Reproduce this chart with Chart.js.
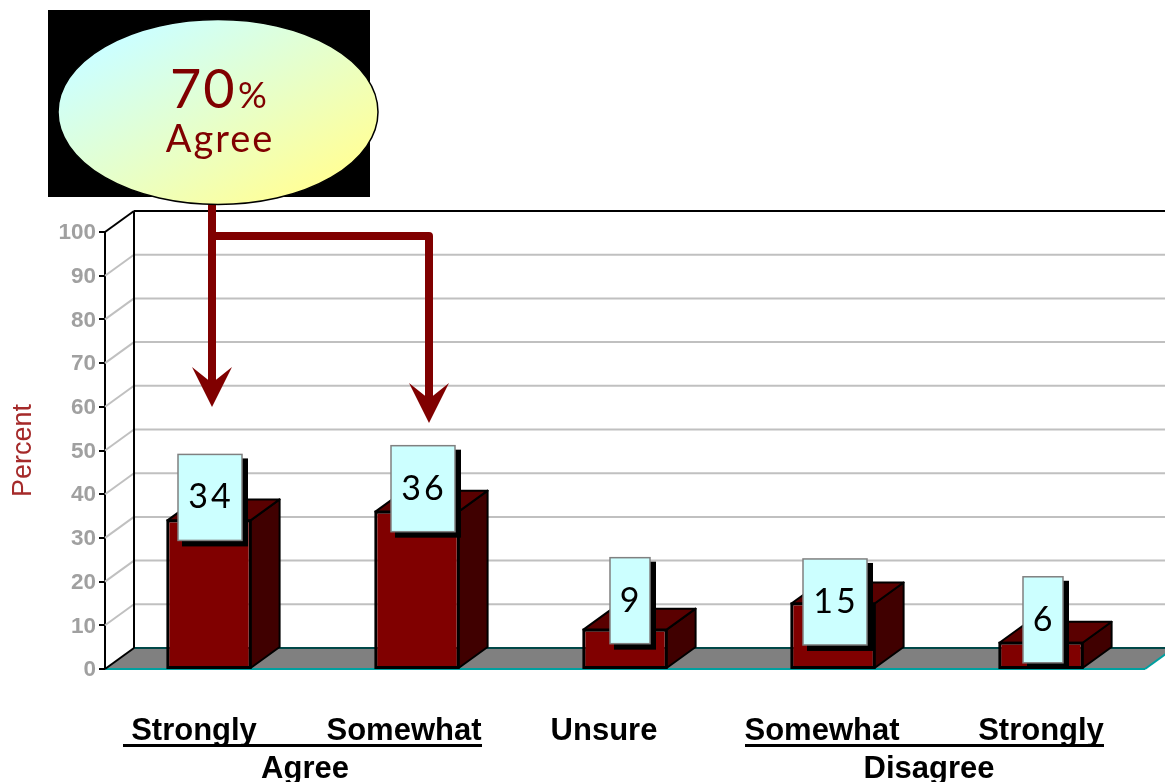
<!DOCTYPE html>
<html>
<head>
<meta charset="utf-8">
<title>Agree / Disagree</title>
<script src="https://cdn.jsdelivr.net/npm/chart.js@4"></script>
<style>
  html, body { margin: 0; padding: 0; background: #fff; overflow: hidden; }
  canvas { display: block; }
</style>
</head>
<body>
<canvas id="chart" width="1165" height="782"></canvas>
<script>
// data
const categories = ['Strongly', 'Somewhat', 'Unsure', 'Somewhat', 'Strongly'];
const percents = [34, 36, 9, 15, 6];
const yTicks = [0, 10, 20, 30, 40, 50, 60, 70, 80, 90, 100];
const groups = ['Agree', 'Disagree'];
const calloutValue = '70';
const calloutLabel = 'Agree';

const MAROON = '#800000';
const DEPTH_X = 29, DEPTH_Y = 21; // 3d offset of the back wall
const WALL_RIGHT = 1170;

// where the hand placed pieces sit, relative to their bars
const boxShift = [[1, -23], [6, -23], [5, -29], [2, -1.5], [2, -23]];
const labelShift = [-15, -13, -21, -11, 0];

function line(ctx, x1, y1, x2, y2) {
  ctx.beginPath();
  ctx.moveTo(x1, y1);
  ctx.lineTo(x2, y2);
  ctx.stroke();
}

function poly(ctx, pts, fill, stroke, width) {
  ctx.beginPath();
  pts.forEach((p, i) => i ? ctx.lineTo(p[0], p[1]) : ctx.moveTo(p[0], p[1]));
  ctx.closePath();
  ctx.fillStyle = fill;
  ctx.fill();
  if (stroke) {
    ctx.strokeStyle = stroke;
    ctx.lineWidth = width;
    ctx.lineJoin = 'round';
    ctx.stroke();
  }
}

// walls, floor and the gridlines, behind the bars
const wallsPlugin = {
  id: 'walls',
  beforeDatasetsDraw(chart) {
    const ctx = chart.ctx, y = chart.scales.y, a = chart.chartArea;
    ctx.save();
    const backLeft = a.left + DEPTH_X;
    ctx.strokeStyle = '#c0c0c0';
    ctx.lineWidth = 2;
    yTicks.slice(1, -1).forEach(v => {
      const py = y.getPixelForValue(v);
      line(ctx, a.left, py, backLeft, py - DEPTH_Y);
      line(ctx, backLeft, py - DEPTH_Y, WALL_RIGHT, py - DEPTH_Y);
    });
    const base = y.getPixelForValue(0), top = y.getPixelForValue(100);
    poly(ctx, [[a.left, base], [a.right, base], [a.right + DEPTH_X, base - DEPTH_Y], [backLeft, base - DEPTH_Y]], '#808080');
    ctx.strokeStyle = '#004848';
    line(ctx, backLeft, base - DEPTH_Y, WALL_RIGHT, base - DEPTH_Y);
    ctx.strokeStyle = '#00a0a0';
    line(ctx, a.left, base, a.right, base);
    line(ctx, a.right, base, a.right + DEPTH_X, base - DEPTH_Y);
    ctx.strokeStyle = '#000';
    line(ctx, backLeft, top - DEPTH_Y, backLeft, base - DEPTH_Y);
    line(ctx, backLeft, top - DEPTH_Y, WALL_RIGHT, top - DEPTH_Y);
    line(ctx, a.left, top, backLeft, top - DEPTH_Y);
    line(ctx, a.left, base, backLeft, base - DEPTH_Y);

    // top and side faces of the bars
    chart.getDatasetMeta(0).data.forEach(bar => {
      const r = bar.x + bar.width / 2, l = bar.x - bar.width / 2;
      poly(ctx, [[r, bar.y], [r + DEPTH_X, bar.y - DEPTH_Y], [r + DEPTH_X, bar.base - DEPTH_Y], [r, bar.base]], '#400000', '#000', 2);
      poly(ctx, [[l, bar.y], [l + DEPTH_X, bar.y - DEPTH_Y], [r + DEPTH_X, bar.y - DEPTH_Y], [r, bar.y]], '#5a0000', '#000', 2);
    });
    ctx.restore();
  }
};

function arrowHead(ctx, x, tipY) {
  poly(ctx, [[x, tipY], [x - 20, tipY - 40], [x, tipY - 24], [x + 20, tipY - 40]], MAROON);
}

// value cards, callout, arrows and the category text
const overlayPlugin = {
  id: 'overlay',
  afterDatasetsDraw(chart) {
    const ctx = chart.ctx, xs = chart.scales.x, ys = chart.scales.y;
    ctx.save();

    // outline on the front of the bars
    ctx.strokeStyle = '#000';
    ctx.lineWidth = 2;
    chart.getDatasetMeta(0).data.forEach(bar => {
      ctx.strokeRect(bar.x - bar.width / 2, bar.y, bar.width, bar.base - bar.y);
    });

    percents.forEach((v, i) => {
      const w = String(v).length > 1 ? 64 : 40, h = 86;
      const cx = xs.getPixelForValue(i) + boxShift[i][0];
      const cy = ys.getPixelForValue(v) + boxShift[i][1];
      ctx.fillStyle = '#000';
      ctx.fillRect(cx - w / 2 + 4, cy - h / 2 + 4, w + 2, h + 2);
      ctx.fillStyle = '#ccffff';
      ctx.strokeStyle = '#808080';
      ctx.lineWidth = 1.5;
      ctx.fillRect(cx - w / 2, cy - h / 2, w, h);
      ctx.strokeRect(cx - w / 2, cy - h / 2, w, h);
      ctx.fillStyle = '#000';
      ctx.font = '34px Lato';
      ctx.letterSpacing = '3px';
      ctx.textAlign = 'center';
      ctx.textBaseline = 'middle';
      ctx.fillText(String(v), cx + 1, cy);
      ctx.letterSpacing = '0px';
    });

    // arrows from the callout
    ctx.strokeStyle = MAROON;
    ctx.lineWidth = 8;
    ctx.lineJoin = 'round';
    line(ctx, 212, 200, 212, 385);
    ctx.beginPath();
    ctx.moveTo(212, 236);
    ctx.lineTo(429, 236);
    ctx.lineTo(429, 400);
    ctx.stroke();
    arrowHead(ctx, 212, 407);
    arrowHead(ctx, 429, 423);

    // callout
    ctx.fillStyle = '#000';
    ctx.fillRect(48, 10, 322, 187);
    const g = ctx.createLinearGradient(163, 16, 273, 208);
    g.addColorStop(0, '#ccffff');
    g.addColorStop(1, '#ffff99');
    ctx.beginPath();
    ctx.ellipse(218, 112, 160, 92.5, 0, 0, Math.PI * 2);
    ctx.fillStyle = g;
    ctx.fill();
    ctx.strokeStyle = '#000';
    ctx.lineWidth = 1.5;
    ctx.stroke();
    ctx.fillStyle = MAROON;
    ctx.textBaseline = 'alphabetic';
    ctx.textAlign = 'left';
    ctx.font = '54px Lato';
    ctx.letterSpacing = '2px';
    ctx.fillText(calloutValue, 170, 108);
    ctx.font = '36px Lato';
    ctx.letterSpacing = '0px';
    ctx.fillText('%', 238, 108);
    ctx.textAlign = 'center';
    ctx.font = '38px Lato';
    ctx.letterSpacing = '2px';
    ctx.fillText(calloutLabel, 220, 152);
    ctx.letterSpacing = '0px';

    // category names, the rule under them and the groups
    ctx.fillStyle = '#000';
    ctx.font = 'bold 31px "Liberation Sans"';
    categories.forEach((c, i) => {
      ctx.fillText(c, xs.getPixelForValue(i) + labelShift[i], 740);
    });
    ctx.fillRect(123, 744, 359, 3);
    ctx.fillRect(745, 744, 359, 3);
    ctx.fillText(groups[0], 305, 778);
    ctx.fillText(groups[1], 929, 778);
    ctx.restore();
  }
};

new Chart(document.getElementById('chart'), {
  type: 'bar',
  data: {
    labels: categories,
    datasets: [{
      data: percents,
      backgroundColor: MAROON,
      borderColor: '#000',
      borderWidth: 2,
      borderSkipped: false,
      barPercentage: 0.4,
      categoryPercentage: 1
    }]
  },
  options: {
    responsive: false,
    animation: false,
    events: [],
    layout: { padding: { top: 232, right: 20, bottom: 113, left: 0 } },
    plugins: { legend: { display: false }, tooltip: { enabled: false } },
    scales: {
      x: { display: false },
      y: {
        min: 0,
        max: 100,
        afterFit(scale) { scale.width = 105; },
        afterBuildTicks(scale) { scale.ticks = yTicks.map(value => ({ value })); },
        border: { color: '#000', width: 2 },
        grid: { drawOnChartArea: false, color: '#000', lineWidth: 2, tickLength: 6 },
        ticks: {
          color: '#a0a0a0',
          padding: 3,
          labelOffset: 1,
          font: { family: '"Liberation Sans"', weight: 'bold', size: 22.5 }
        },
        title: {
          display: true,
          text: 'Percent',
          color: '#a52a2a',
          padding: { top: 7, bottom: 0 },
          font: { family: '"Liberation Sans"', size: 27 }
        }
      }
    }
  },
  plugins: [wallsPlugin, overlayPlugin]
});
</script>
</body>
</html>
